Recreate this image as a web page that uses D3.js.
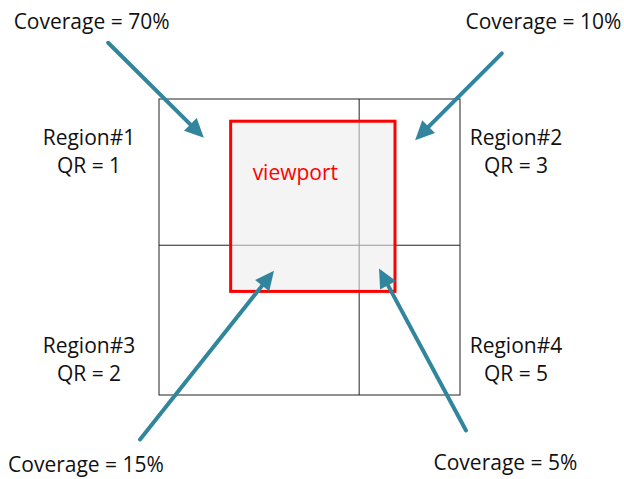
<!DOCTYPE html>
<html><head><meta charset="utf-8">
<script src="https://cdn.jsdelivr.net/npm/d3@7"></script>
<style>body{margin:0;background:#fff}svg{display:block}</style>
</head><body>
<svg id="c" width="624" height="479"></svg>
<script>
const regions = ["Region#1", "Region#2", "Region#3", "Region#4"];
const qrValues = [1, 3, 2, 5];
const coverage = [70, 10, 15, 5];
// grid quadrant (col,row) for each region
const regionCol = [0, 1, 0, 1];
const regionRow = [0, 0, 1, 1];
// diagram units: grid spans 0..1 on x and y
const gridX = [0, 0.665, 1];
const gridY = [0, 0.494, 1];
const viewportBox = [0.238, 0.075, 0.784, 0.65]; // x0,y0,x1,y1
// arrow: start (diagram units) -> tip
const arrowStart = [[-0.169, -0.19], [1.139, -0.154], [-0.063, 1.15], [1.02, 1.12]];
const arrowTip = [[0.149, 0.131], [0.851, 0.139], [0.382, 0.58], [0.731, 0.573]];
const labelPos = [[-0.224, -0.236], [1.277, -0.236], [-0.2425, 1.261], [1.151, 1.253]];

const svg = d3.select("#c");
const x = d3.scaleLinear().domain([0, 1]).range([159, 460]);
const y = d3.scaleLinear().domain([0, 1]).range([99, 395]);
const font = "'Open Sans', 'Noto Sans', sans-serif";
const fs = 21;
const teal = "#31859C";

// grid outer + dividers
svg.append("rect").attr("x", x(0)).attr("y", y(0)).attr("width", x(1) - x(0)).attr("height", y(1) - y(0))
  .attr("fill", "none").attr("stroke", "#222").attr("stroke-width", 1);
svg.append("line").attr("x1", x(gridX[1])).attr("x2", x(gridX[1])).attr("y1", y(0)).attr("y2", y(1)).attr("stroke", "#222");
svg.append("line").attr("x1", x(0)).attr("x2", x(1)).attr("y1", y(gridY[1])).attr("y2", y(gridY[1])).attr("stroke", "#222");

// viewport
const [vx0, vy0, vx1, vy1] = viewportBox;
svg.append("rect").attr("x", x(vx0)).attr("y", y(vy0)).attr("width", x(vx1) - x(vx0)).attr("height", y(vy1) - y(vy0))
  .attr("fill", "#f4f4f4").attr("stroke", "none");
svg.append("line").attr("x1", x(gridX[1])).attr("x2", x(gridX[1])).attr("y1", y(vy0)).attr("y2", y(vy1)).attr("stroke", "#999");
svg.append("line").attr("x1", x(vx0)).attr("x2", x(vx1)).attr("y1", y(gridY[1])).attr("y2", y(gridY[1])).attr("stroke", "#999");
svg.append("rect").attr("x", x(vx0)).attr("y", y(vy0)).attr("width", x(vx1) - x(vx0)).attr("height", y(vy1) - y(vy0))
  .attr("fill", "none").attr("stroke", "#ff0000").attr("stroke-width", 3);
svg.append("text").attr("x", x(vx0) + 22).attr("y", y(vy0) + 59).attr("fill", "#ff0000")
  .attr("font-family", font).attr("font-size", fs).text("viewport");

// region labels
const colCenter = [89, 516];
const rowBase = [145, 353];
regions.forEach((r, i) => {
  const t = svg.append("text").attr("text-anchor", "middle").attr("font-family", font).attr("font-size", fs).attr("fill", "#111");
  t.append("tspan").attr("x", colCenter[regionCol[i]]).attr("y", rowBase[regionRow[i]]).text(r);
  t.append("tspan").attr("x", colCenter[regionCol[i]]).attr("dy", 28).text("QR = " + qrValues[i]);
});

// arrows
const headLen = 19, headW = 9;
coverage.forEach((c, i) => {
  const sx = x(arrowStart[i][0]), sy = y(arrowStart[i][1]);
  const tx = x(arrowTip[i][0]), ty = y(arrowTip[i][1]);
  const ang = Math.atan2(ty - sy, tx - sx);
  const bx = tx - headLen * Math.cos(ang), by = ty - headLen * Math.sin(ang);
  svg.append("line").attr("x1", sx).attr("y1", sy).attr("x2", bx + 2 * Math.cos(ang)).attr("y2", by + 2 * Math.sin(ang))
    .attr("stroke", teal).attr("stroke-width", 4).attr("stroke-linecap", "round");
  const px = -Math.sin(ang), py = Math.cos(ang);
  svg.append("path").attr("d", d3.line()([[tx, ty], [bx + headW * px, by + headW * py], [bx - headW * px, by - headW * py]]) + "Z")
    .attr("fill", teal);
  svg.append("text").attr("x", x(labelPos[i][0])).attr("y", y(labelPos[i][1])).attr("text-anchor", "middle")
    .attr("font-family", font).attr("font-size", fs).attr("fill", "#111").text("Coverage = " + c + "%");
});
</script>
</body></html>
